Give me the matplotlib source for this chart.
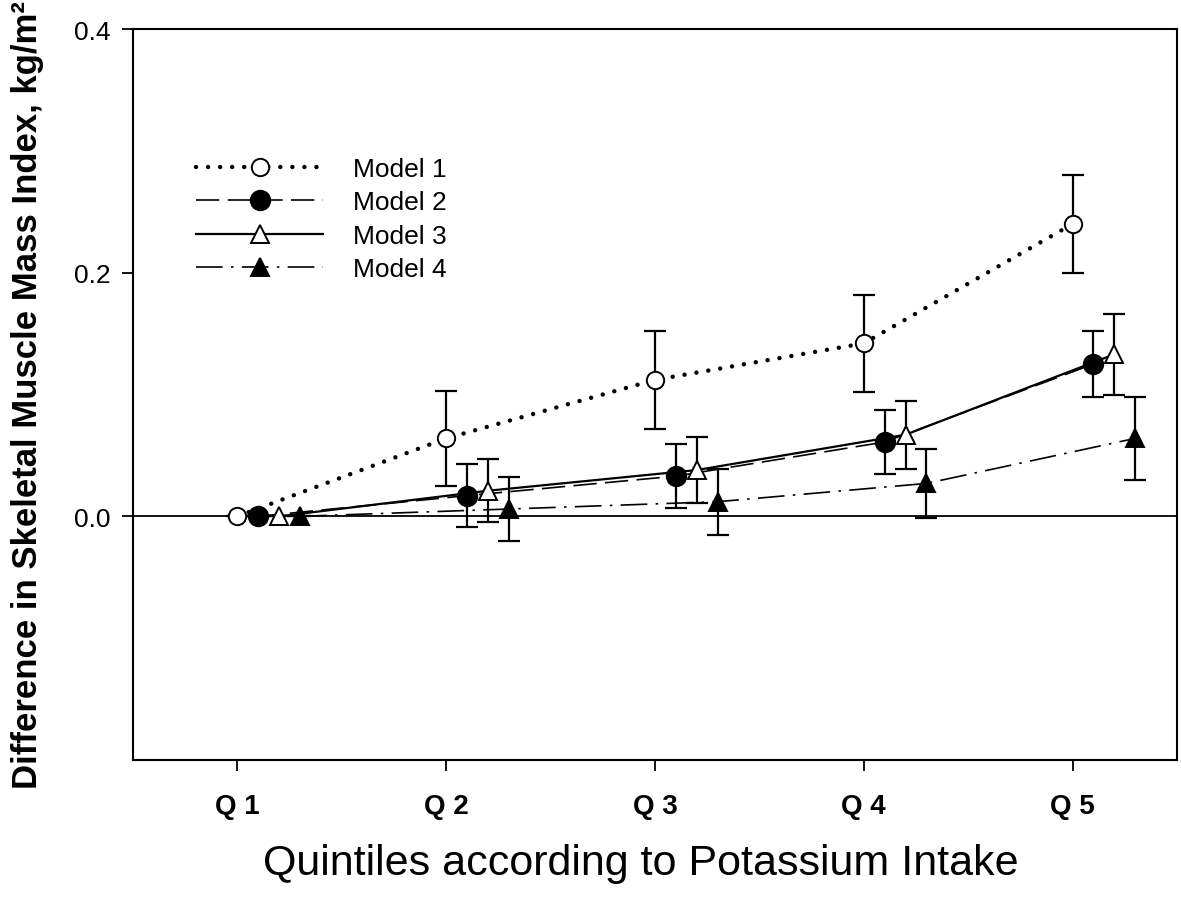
import matplotlib
matplotlib.use("Agg")
import matplotlib.pyplot as plt
import numpy as np

plt.rcParams['font.family'] = ['Liberation Sans', 'DejaVu Sans']

# quintile positions and labels
quintiles = [1, 2, 3, 4, 5]
tickLabels = ['Q 1', 'Q 2', 'Q 3', 'Q 4', 'Q 5']

# difference in SMI per model (Q1 is reference)
model1 = [0.0, 0.064, 0.112, 0.142, 0.240]
model1Err = [0.0, 0.039, 0.040, 0.040, 0.040]
model2 = [0.0, 0.017, 0.033, 0.061, 0.125]
model2Err = [0.0, 0.026, 0.026, 0.026, 0.027]
model3 = [0.0, 0.021, 0.038, 0.067, 0.133]
model3Err = [0.0, 0.026, 0.027, 0.028, 0.033]
model4 = [0.0, 0.006, 0.012, 0.027, 0.064]
model4Err = [0.0, 0.026, 0.027, 0.028, 0.034]

# horizontal offsets so the markers don't sit on top of each other
offsets = [0.0, 0.1, 0.2, 0.3]

fig = plt.figure(figsize=(11.81, 9.04), dpi=100)
ax = fig.add_axes([0.1126, 0.1582, 0.8840, 0.8086])

series = [
    ("Model 1", model1, model1Err, dict(linestyle=(0, (0.01, 2.7)), linewidth=3.2, dash_capstyle='round',
                                      marker='o', markerfacecolor='white', markersize=12.5)),
    ("Model 2", model2, model2Err, dict(linestyle=(0, (14, 5)), linewidth=1.2,
                                      marker='o', markerfacecolor='black', markersize=14)),
    ("Model 3", model3, model3Err, dict(linestyle='-', linewidth=1.6,
                                      marker='^', markerfacecolor='white', markersize=13.5)),
    ("Model 4", model4, model4Err, dict(linestyle=(0, (16, 5, 1.5, 5)), linewidth=1.2,
                                      marker='^', markerfacecolor='black', markersize=13.5)),
]

for (name, vals, errs, style), off in zip(series, offsets):
    xs = np.array(quintiles) + off
    ax.errorbar(xs, vals, yerr=errs, fmt='none', ecolor='black', elinewidth=1.6,
                capsize=8, capthick=1.6, zorder=2)
    ax.plot(xs, vals, color='black', markeredgecolor='black', markeredgewidth=1.4,
            label=name, zorder=3, **style)

ax.axhline(0, color='black', linewidth=1.3, zorder=1)

ax.set_xlim(0.5, 5.5)
ax.set_ylim(-0.2, 0.4)
ax.set_xticks(quintiles)
ax.set_xticklabels(tickLabels, fontsize=20, fontweight='bold')
ax.set_yticks([0.0, 0.2, 0.4])
ax.set_yticklabels(['0.0', '0.2', '0.4'], fontsize=19)
ax.tick_params(direction='out', length=8, width=1.3, pad=16)
ax.tick_params(axis='y', pad=8)
for sp in ax.spines.values():
    sp.set_linewidth(1.5)

ax.set_xlabel("Quintiles according to Potassium Intake", fontsize=31)
ax.xaxis.set_label_coords(0.486, -0.113)
ax.set_ylabel("Difference in Skeletal Muscle Mass Index, kg/m\u00b2", fontsize=25,
              fontweight='bold', labelpad=22)

leg = ax.legend(loc='upper left', bbox_to_anchor=(0.048, 0.843), frameon=False, fontsize=19,
                handlelength=4.8, handletextpad=1.15, labelspacing=0.36, borderpad=0)

fig.savefig("out.png", dpi=100)
